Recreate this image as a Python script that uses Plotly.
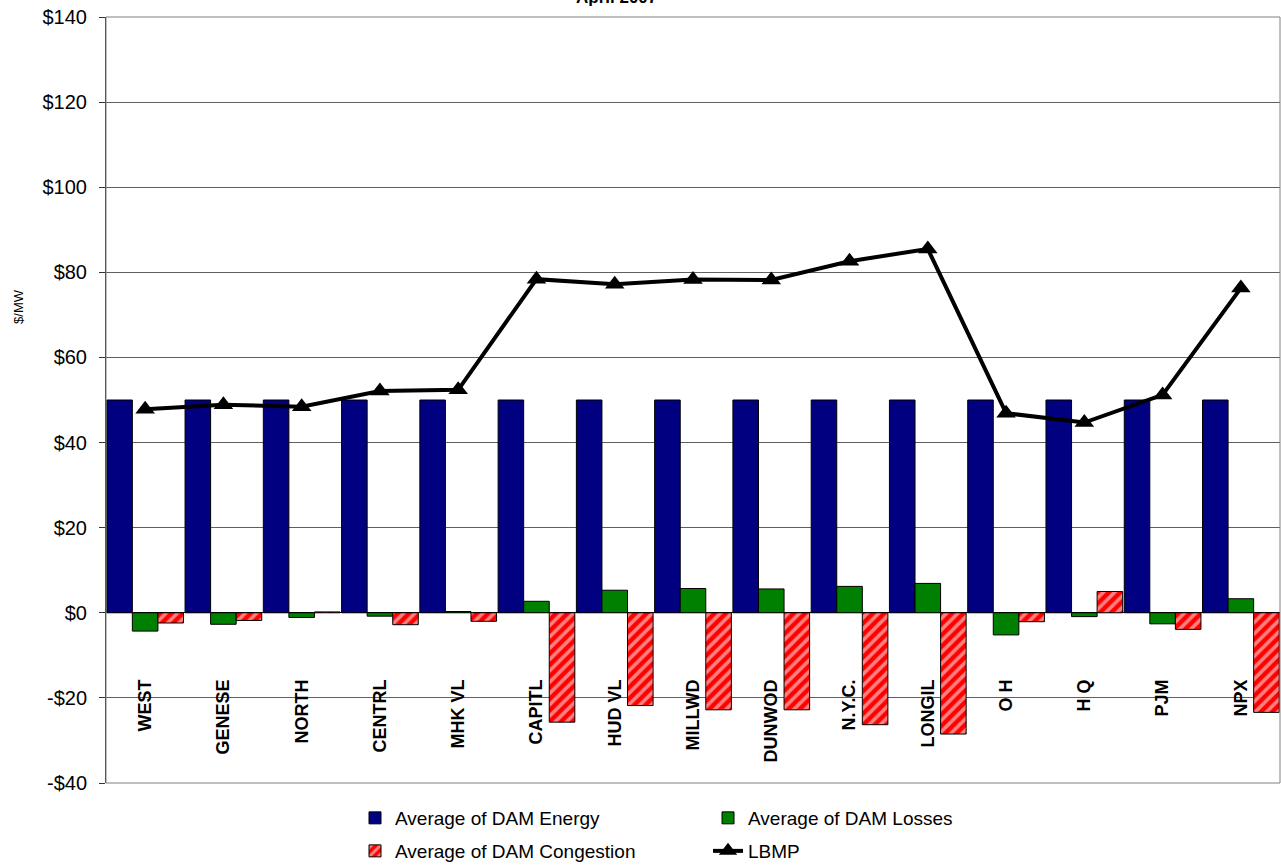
import plotly.graph_objects as go

categories = ["WEST", "GENESE", "NORTH", "CENTRL", "MHK VL", "CAPITL", "HUD VL", "MILLWD",
              "DUNWOD", "N.Y.C.", "LONGIL", "O H", "H Q", "PJM", "NPX"]
dam_energy = [50.0] * 15
dam_losses = [-4.3, -2.7, -1.1, -0.8, 0.3, 2.7, 5.3, 5.7, 5.6, 6.2, 6.9, -5.2, -0.9, -2.6, 3.3]
dam_congestion = [-2.4, -1.8, 0.2, -2.8, -2.0, -25.7, -21.8, -22.8, -22.8, -26.3, -28.5, -2.1, 5.0, -3.9, -23.4]
lbmp = [47.8, 48.9, 48.4, 52.1, 52.4, 78.4, 77.2, 78.3, 78.2, 82.6, 85.5, 46.9, 44.7, 51.2, 76.3]

y_tickvals = [-40, -20, 0, 20, 40, 60, 80, 100, 120, 140]
y_ticktext = ["-$40", "-$20", "$0", "$20", "$40", "$60", "$80", "$100", "$120", "$140"]

FONT = "Liberation Sans, Arial, sans-serif"

fig = go.Figure()
fig.add_trace(go.Bar(
    x=categories, y=dam_energy, name="Average of DAM Energy",
    marker=dict(color="#000080", line=dict(color="black", width=1)),
    legend="legend",
))
fig.add_trace(go.Bar(
    x=categories, y=dam_losses, name="Average of DAM Losses",
    marker=dict(color="#008000", line=dict(color="black", width=1)),
    legend="legend2",
))
fig.add_trace(go.Bar(
    x=categories, y=dam_congestion, name="Average of DAM Congestion",
    marker=dict(color="#FF0000", line=dict(color="black", width=1),
                pattern=dict(shape="/", fgcolor="white", bgcolor="#FF0000",
                             size=8, solidity=0.45, fillmode="overlay")),
    legend="legend3",
))
fig.add_trace(go.Scatter(
    x=categories, y=lbmp, name="LBMP", mode="lines+markers",
    line=dict(color="black", width=4),
    marker=dict(symbol="triangle-up", size=17, color="black"),
    legend="legend4",
))

legend_common = dict(bgcolor="rgba(0,0,0,0)", borderwidth=0,
                     font=dict(family=FONT, size=19, color="black"),
                     xanchor="left", yanchor="middle", orientation="v")

fig.update_layout(
    width=1281, height=867,
    margin=dict(l=106, r=1, t=17, b=84, autoexpand=False),
    paper_bgcolor="white", plot_bgcolor="white",
    barmode="group", bargap=0.02, bargroupgap=0,
    font=dict(family=FONT, color="black"),
    showlegend=True,
    legend=dict(x=0.2121, y=-0.0457, **legend_common),
    legend2=dict(x=0.5128, y=-0.0457, **legend_common),
    legend3=dict(x=0.2121, y=-0.0888, **legend_common),
    legend4=dict(x=0.5128, y=-0.0888, **legend_common),
    xaxis=dict(
        type="category", anchor="free", position=0.141, range=[-0.5, 14.5],
        showline=False, showgrid=False, ticks="", zeroline=False,
        tickangle=-90, tickfont=dict(family=FONT, size=18, color="black", weight="bold"),
        automargin=False,
    ),
    yaxis=dict(
        range=[-40, 140], tickvals=y_tickvals, ticktext=y_ticktext,
        showgrid=True, gridcolor="#606060", gridwidth=1,
        zeroline=True, zerolinecolor="black", zerolinewidth=1,
        showline=True, linecolor="#333333", linewidth=1,
        ticks="outside", ticklen=6, tickcolor="#333333", ticklabelstandoff=8,
        ticklabeloverflow="allow",
        tickfont=dict(family=FONT, size=20, color="black"),
        automargin=False,
    ),
    shapes=[dict(type="rect", xref="paper", yref="paper", x0=0, y0=0, x1=1, y1=1,
                 line=dict(color="#808080", width=1), fillcolor="rgba(0,0,0,0)", layer="above")],
    annotations=[
        dict(text="<b>April 2007</b>", xref="paper", yref="paper",
             x=0.435, y=1.0 + 19 / 766, xanchor="center", yanchor="middle",
             showarrow=False, font=dict(family=FONT, size=17, color="black")),
        dict(text="$/MW", xref="paper", yref="paper", x=-0.075, y=0.6227,
             xanchor="center", yanchor="middle", textangle=-90,
             showarrow=False, font=dict(family=FONT, size=13, color="black")),
    ],
)

fig.write_html("out.html", config={"displayModeBar": False},
               post_script="document.body.style.margin='0';")
